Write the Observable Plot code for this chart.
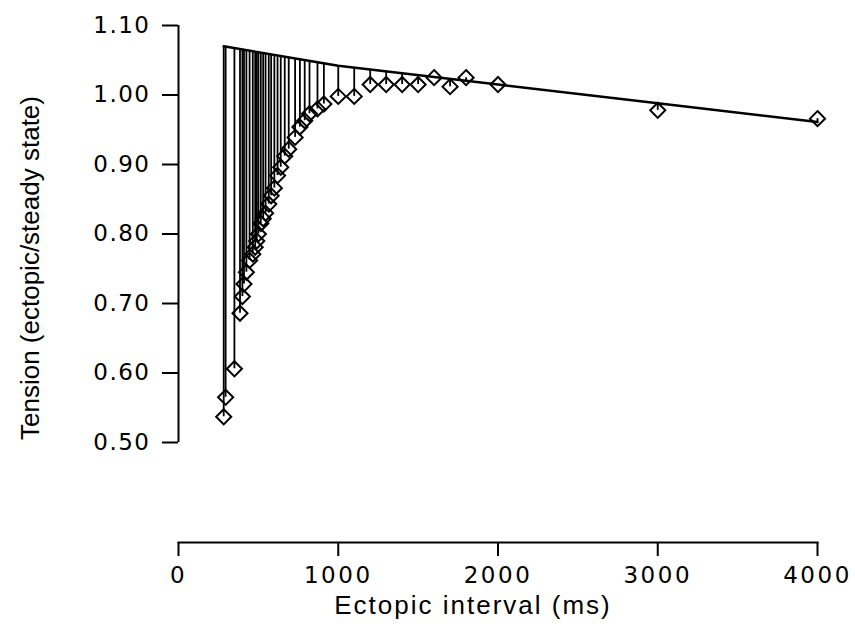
<!DOCTYPE html>
<html>
<head>
<meta charset="utf-8">
<script src="https://cdn.jsdelivr.net/npm/d3@7"></script>
<script src="https://cdn.jsdelivr.net/npm/@observablehq/plot@0.6"></script>
<style>
  html, body { margin: 0; padding: 0; background: white; }
  g[aria-label="y-axis tick label"] text { letter-spacing: 1.5px; font-size: 23px; }
  g[aria-label="x-axis tick label"] text { letter-spacing: 2.5px; font-size: 23px; }
</style>
</head>
<body>
<div id="chart"></div>
<script>
// Ectopic interval (ms) and normalised tension (ectopic / steady state)
const interval = [283, 295, 350, 385, 400, 410, 425, 445, 465, 480, 490, 500, 515, 530, 545, 565, 580, 600, 620, 640, 665, 690, 730, 760, 790, 820, 870, 910, 1000, 1100, 1200, 1300, 1400, 1500, 1600, 1700, 1800, 2000, 3000, 4000];
const tension = [0.537, 0.565, 0.606, 0.686, 0.710, 0.728, 0.745, 0.762, 0.771, 0.781, 0.790, 0.800, 0.815, 0.822, 0.830, 0.843, 0.855, 0.866, 0.884, 0.896, 0.912, 0.922, 0.939, 0.954, 0.963, 0.973, 0.980, 0.987, 0.998, 0.998, 1.015, 1.015, 1.015, 1.015, 1.025, 1.012, 1.025, 1.015, 0.978, 0.966];

// Reference (upper) line
const fitInterval = [283, 1000, 2000, 3000, 4000];
const fitTension = [1.070, 1.042, 1.015, 0.988, 0.961];

const xTicks = [0, 1000, 2000, 3000, 4000];
const yTicks = [0.50, 0.60, 0.70, 0.80, 0.90, 1.00, 1.10];

const xLabel = "Ectopic interval (ms)";
const yLabel = "Tension (ectopic/steady state)";

const fitAt = d3.scaleLinear().domain(fitInterval).range(fitTension);
const points = interval.map((x, i) => ({x, y: tension[i], top: fitAt(x)}));
const fit = fitInterval.map((x, i) => ({x, y: fitTension[i]}));

const titleFont = "'Liberation Sans', Arial, sans-serif";
const tickFont = "'DejaVu Sans', sans-serif";

const chart = Plot.plot({
  width: 855,
  height: 624,
  marginLeft: 178,
  marginRight: 38,
  marginTop: 25,
  marginBottom: 82,
  x: {domain: [0, 4000]},
  y: {domain: [0.5, 1.1], range: [442, 25]},
  style: {fontFamily: tickFont, fontSize: "22px", color: "black", background: "white"},
  marks: [
    Plot.frame({anchor: "bottom", stroke: "black", strokeWidth: 2}),
    Plot.ruleX([0], {y1: 0.5, y2: 1.1, stroke: "black", strokeWidth: 2}),
    Plot.axisY({ticks: yTicks, tickFormat: d3.format(".2f"), tickSize: 16, tickPadding: 12, label: null, strokeWidth: 2, fontFamily: tickFont}),
    Plot.axisX({ticks: xTicks, tickFormat: d3.format("d"), tickSize: 14, tickPadding: 10, label: null, strokeWidth: 2, fontFamily: tickFont}),
    Plot.ruleX(points, {x: "x", y1: "y", y2: "top", stroke: "black", strokeWidth: 1.8}),
    Plot.line(fit, {x: "x", y: "y", stroke: "black", strokeWidth: 2.5}),
    Plot.dot(points, {x: "x", y: "y", symbol: "diamond2", r: 6.8, stroke: "black", strokeWidth: 2, fill: "none"}),
    Plot.text([xLabel], {text: d => d, frameAnchor: "bottom", dy: 71, dx: -25, fontSize: 26, fontFamily: titleFont}),
    Plot.text([yLabel], {text: d => d, frameAnchor: "left", textAnchor: "middle", rotate: -90, dx: -148, dy: -16, fontSize: 26, fontFamily: titleFont})
  ]
});
// widen the horizontal title slightly, as in the reference
d3.select(chart).selectAll("text").filter(function() { return this.textContent === xLabel; }).style("letter-spacing", "2px");
document.getElementById("chart").appendChild(chart);
</script>
</body>
</html>
